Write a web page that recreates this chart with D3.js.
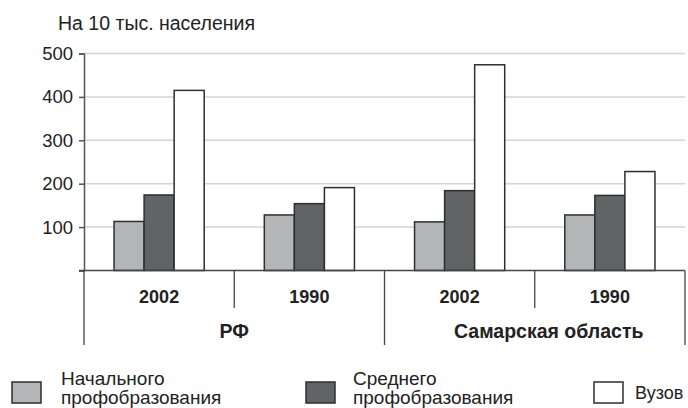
<!DOCTYPE html>
<html><head><meta charset="utf-8">
<script src="https://cdn.jsdelivr.net/npm/d3@7"></script>
<style>body{margin:0;background:#fff}svg{display:block;font-family:"Liberation Sans",Arial,sans-serif}</style>
</head><body><svg id="c" width="688" height="408"></svg>
<script>
const regions = ["РФ", "Самарская область"];
const years = ["2002", "1990"];
const seriesNames = ["Начального профобразования", "Среднего профобразования", "Вузов"];
const initialVals = [113, 128, 112, 128];
const secondaryVals = [174, 154, 184, 173];
const higherVals = [415, 191, 474, 228];
const yTicks = [100, 200, 300, 400, 500];
const titleText = "На 10 тыс. населения";

const colors = ["#b4b5b7", "#626365", "#ffffff"];
const series = [initialVals, secondaryVals, higherVals];

const svg = d3.select("#c");
const left = 84, right = 685, y0 = 270.5, yTop = 53.5;

const groups = [];
regions.forEach(r => years.forEach(yv => groups.push(r + "|" + yv)));

const x0 = d3.scaleBand().domain(groups).range([left, right]);
const xr = d3.scaleBand().domain(regions).range([left, right]);
const x1 = d3.scaleBand().domain(d3.range(series.length)).range([0, x0.bandwidth()]).paddingOuter(1);
const y = d3.scaleLinear().domain([0, 500]).range([y0, yTop]);

// gridlines
svg.append("g").selectAll("line").data(yTicks).join("line")
  .attr("x1", left).attr("x2", right)
  .attr("y1", d => y(d)).attr("y2", d => y(d))
  .attr("stroke", "#d4d4d4").attr("stroke-width", 1.5);

// bars
const bars = [];
groups.forEach((g, gi) => series.forEach((s, si) => bars.push({g, si, v: s[gi]})));
svg.append("g").selectAll("rect").data(bars).join("rect")
  .attr("x", d => x0(d.g) + x1(d.si))
  .attr("y", d => y(d.v))
  .attr("width", x1.bandwidth())
  .attr("height", d => y(0) - y(d.v))
  .attr("fill", d => colors[d.si])
  .attr("stroke", "#2e2e2e").attr("stroke-width", 1.5);

// y axis
const yAxis = d3.axisLeft(y).tickValues([0, ...yTicks]).tickSize(5).tickFormat(d => d === 0 ? "" : d);
const ga = svg.append("g").attr("transform", `translate(${left},0)`).call(yAxis);
ga.select(".domain").attr("stroke", "#555").attr("stroke-width", 1.5);
ga.selectAll(".tick line").attr("stroke", "#555").attr("stroke-width", 1.5);
ga.selectAll(".tick text").attr("font-size", 18.5).attr("fill", "#222").attr("x", -11)
  .attr("font-family", "Liberation Sans, Arial, sans-serif");

// x axis baseline
svg.append("line").attr("x1", left - 5).attr("x2", right).attr("y1", y(0)).attr("y2", y(0))
  .attr("stroke", "#444").attr("stroke-width", 1.5);

const sepColor = "#444";
regions.forEach(r => {
  const xs = x0(r + "|" + years[1]);
  svg.append("line").attr("x1", xs).attr("x2", xs).attr("y1", y(0)).attr("y2", 308)
    .attr("stroke", sepColor).attr("stroke-width", 1.3);
});
[...regions.map(r => xr(r)), right].forEach(xs => {
  svg.append("line").attr("x1", xs).attr("x2", xs).attr("y1", y(0)).attr("y2", 345)
    .attr("stroke", sepColor).attr("stroke-width", 1.3);
});

// year labels
svg.append("g").selectAll("text").data(groups).join("text")
  .attr("x", d => x0(d) + x0.bandwidth() / 2)
  .attr("y", 303)
  .attr("text-anchor", "middle").attr("font-size", 18).attr("font-weight", "bold").attr("fill", "#222")
  .text(d => d.split("|")[1]);

// region labels
svg.append("g").selectAll("text").data(regions).join("text")
  .attr("x", (d, i) => xr(d) + xr.bandwidth() / 2 + (i === 1 ? 14 : 0))
  .attr("y", 338)
  .attr("text-anchor", "middle").attr("font-size", 19.5).attr("font-weight", "bold").attr("fill", "#222")
  .text(d => d);

// title
svg.append("text").attr("x", 58).attr("y", 30).attr("font-size", 19.5).attr("fill", "#222").text(titleText);

// legend
const legendX = [12, 306, 594];
const textX = [61, 353, 635];
seriesNames.forEach((name, i) => {
  svg.append("rect").attr("x", legendX[i]).attr("y", 382).attr("width", 29).attr("height", 21)
    .attr("fill", colors[i]).attr("stroke", "#2e2e2e").attr("stroke-width", 1.5);
  const parts = name.split(" ");
  const t = svg.append("text").attr("fill", "#222");
  if (parts.length === 1) {
    t.attr("font-size", 18).attr("x", textX[i]).attr("y", 399).text(name);
  } else {
    t.attr("font-size", 19);
    t.append("tspan").attr("x", textX[i]).attr("y", 385).text(parts[0]);
    t.append("tspan").attr("x", textX[i]).attr("y", 404).text(parts[1]);
  }
});
</script></body></html>
